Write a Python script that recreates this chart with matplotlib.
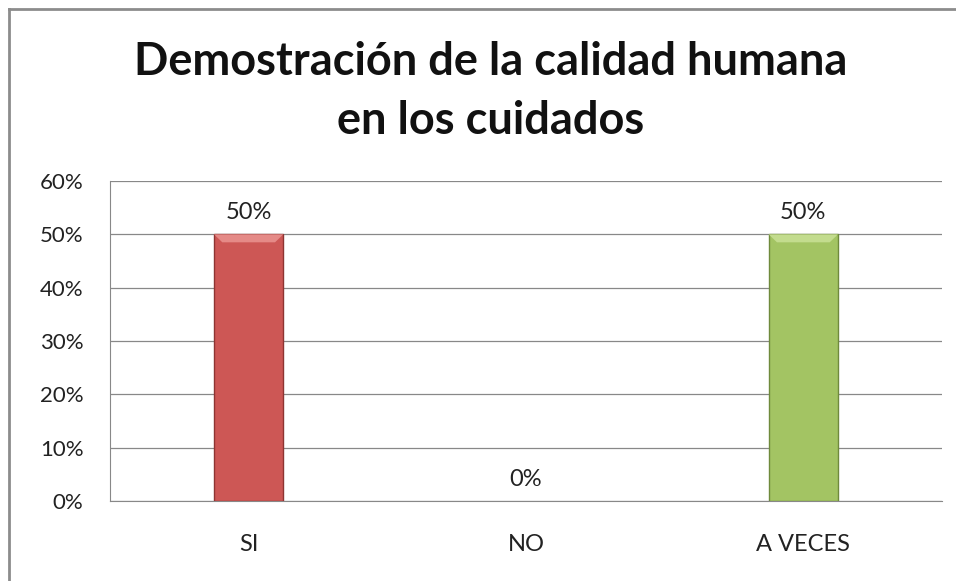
import matplotlib.pyplot as plt
from matplotlib.lines import Line2D
from matplotlib.patches import Polygon
from matplotlib.ticker import PercentFormatter

plt.rcParams["font.family"] = ["Lato", "DejaVu Sans"]

# ==================== 数据 ====================
categories = ["SI", "NO", "A VECES"]
values = [50, 0, 50]
bar_colors = ["#CD5755", "#C0504D", "#A3C463"]
bevel_colors = ["#E58A87", "#E58A87", "#C3DC8E"]
edge_colors = ["#8E3432", "#8E3432", "#6F8A3C"]
title_lines = ["Demostración de la calidad humana", "en los cuidados"]

W, H = 956, 581
fig = plt.figure(figsize=(W / 100, H / 100), dpi=100)
ax = fig.add_axes([110 / W, 1 - 501 / H, 832 / W, 320 / H])

x = range(len(categories))
bars = ax.bar(x, values, width=0.25, color=bar_colors, edgecolor=edge_colors,
              linewidth=1.0, zorder=3)

# 顶部的斜面高光
bevel_h, bevel_in = 1.5, 0.03
for b, v, bc in zip(bars, values, bevel_colors):
    if v == 0:
        b.set_visible(False)
        continue
    x0, w, top = b.get_x(), b.get_width(), b.get_height()
    ax.add_patch(Polygon([(x0, top), (x0 + w, top), (x0 + w - bevel_in, top - bevel_h),
                          (x0 + bevel_in, top - bevel_h)],
                         closed=True, facecolor=bc, edgecolor="none", zorder=4))

for xi, v in zip(x, values):
    ax.annotate(f"{v}%", (xi, v), xytext=(0, 11), textcoords="offset points",
                ha="center", va="baseline", fontsize=17, color="#222222")

ax.set_xlim(-0.5, 2.5)
ax.set_ylim(0, 60)
ax.set_yticks(range(0, 61, 10))
ax.yaxis.set_major_formatter(PercentFormatter(decimals=0))
ax.set_xticks(list(x))
ax.set_xticklabels(categories)
ax.tick_params(axis="x", length=0, pad=24, labelsize=17, colors="#222222")
ax.tick_params(axis="y", length=0, labelsize=16, colors="#222222", pad=19)
ax.grid(axis="y", color="#888888", linewidth=0.9, zorder=0)

for side in ["top", "right"]:
    ax.spines[side].set_visible(False)
for side in ["left", "bottom"]:
    ax.spines[side].set_color("#888888")

# 标题：两行分别按基线定位
t1 = fig.text(491 / W, 1 - 75 / H, title_lines[0], ha="center", va="baseline",
              fontsize=33, fontweight="bold", color="#111111")
t2 = fig.text(491 / W, 1 - 134 / H, title_lines[1], ha="center", va="baseline",
              fontsize=33, fontweight="bold", color="#111111")
fig.canvas.draw()
w1 = t1.get_window_extent().width
size = 33 * 712 / w1
t1.set_fontsize(size)
t2.set_fontsize(size)

# 外框（只有左边和上边可见）
fig.add_artist(Line2D([9 / W, 9 / W], [0, 1 - 9 / H], transform=fig.transFigure,
                      color="#8C8C8C", linewidth=2))
fig.add_artist(Line2D([9 / W, 1], [1 - 9 / H, 1 - 9 / H], transform=fig.transFigure,
                      color="#8C8C8C", linewidth=2))

fig.savefig("out.png", dpi=100)
